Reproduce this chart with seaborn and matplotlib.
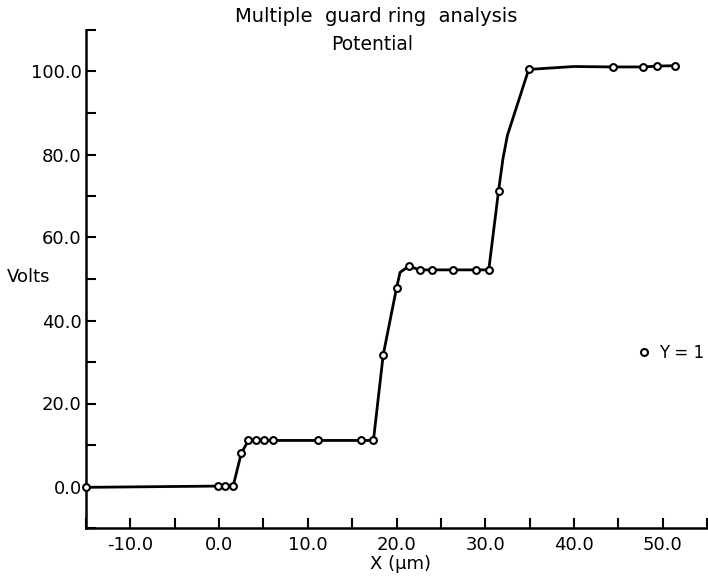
import numpy as np
import pandas as pd
import matplotlib
matplotlib.use("Agg")
import matplotlib.pyplot as plt
from matplotlib.ticker import MultipleLocator
from matplotlib.lines import Line2D
import seaborn as sns

# computed nodes along Y = 1
x_nodes = [-15.0, -0.1, 0.7, 1.6, 2.5, 3.3, 4.2, 5.1, 6.1, 11.1, 16.0, 17.4,
           18.5, 20.0, 21.4, 22.6, 24.0, 26.4, 29.0, 30.4,
           31.5, 34.9, 44.4, 47.8, 49.4, 51.4]
v_nodes = [-0.2, 0.1, 0.1, 0.2, 8.0, 11.1, 11.1, 11.1, 11.1, 11.1, 11.1, 11.1,
           31.7, 47.8, 53.1, 52.2, 52.2, 52.2, 52.2, 52.2,
           71.2, 100.5, 101.1, 101.1, 101.3, 101.4]

# extra bends of the drawn curve (no marker there)
x_bend = [20.4, 32.0, 32.5, 40.0]
v_bend = [51.6, 79.0, 84.6, 101.2]

title_1 = "Multiple  guard ring  analysis"
title_2 = "Potential"
x_label = "X (\u03bcm)"
y_label = "Volts"
legend_label = "Y = 1"


def build_frames():
    nodes = pd.DataFrame({"x": x_nodes, "v": v_nodes})
    curve = pd.concat([nodes, pd.DataFrame({"x": x_bend, "v": v_bend})])
    curve = curve.sort_values("x").reset_index(drop=True)
    return nodes, curve


def main():
    sns.set_style("ticks")
    plt.rcParams["font.family"] = ["DejaVu Sans"]
    plt.rcParams["font.size"] = 13
    plt.rcParams["text.color"] = "black"

    nodes, curve = build_frames()

    fig = plt.figure(figsize=(7.08, 5.76), dpi=100)
    ax = fig.add_axes([86 / 708, 48 / 576, 621 / 708, 498 / 576])

    sns.lineplot(data=curve, x="x", y="v", ax=ax, color="black", lw=2.0,
                 sort=False, estimator=None)
    sns.scatterplot(data=nodes, x="x", y="v", ax=ax, marker="o", s=24,
                    facecolor="white", edgecolor="black", linewidth=1.5,
                    zorder=3, clip_on=False)

    ax.set_xlim(-15, 55)
    ax.set_ylim(-10, 110)
    ax.xaxis.set_major_locator(MultipleLocator(10))
    ax.xaxis.set_minor_locator(MultipleLocator(5))
    ax.yaxis.set_major_locator(MultipleLocator(20))
    ax.yaxis.set_minor_locator(MultipleLocator(10))
    ax.xaxis.set_major_formatter(lambda v, p: f"{v:.1f}")
    ax.yaxis.set_major_formatter(lambda v, p: f"{v:.1f}" if v >= 0 else "")

    ax.tick_params(which="both", direction="in", length=7, width=1.5,
                   color="black", labelsize=13, labelcolor="black")
    ax.tick_params(axis="x", pad=6)
    ax.tick_params(axis="y", pad=3)

    sns.despine(ax=ax)
    for side in ["left", "bottom"]:
        ax.spines[side].set_linewidth(1.8)
        ax.spines[side].set_color("black")

    ax.set_xlabel("")
    ax.set_ylabel("")

    fig.text(376 / 708, 1 - 22 / 576, title_1, ha="center", va="baseline", fontsize=14)
    fig.text(372 / 708, 1 - 50 / 576, title_2, ha="center", va="baseline", fontsize=13.5)
    fig.text(400 / 708, 1 - 569 / 576, x_label, ha="center", va="baseline", fontsize=13)
    fig.text(7 / 708, 1 - 282 / 576, y_label, ha="left", va="baseline", fontsize=13)

    handle = Line2D([], [], ls="none", marker="o", markersize=5,
                    markerfacecolor="white", markeredgecolor="black",
                    markeredgewidth=1.5)
    ax.legend([handle], [legend_label], loc="center left", frameon=False,
              bbox_to_anchor=((637 - 86) / 621, (576 - 353 - 48) / 498),
              bbox_transform=ax.transAxes, borderpad=0, borderaxespad=0,
              handlelength=0.8, handletextpad=0.5, fontsize=12)

    fig.savefig("out.png", dpi=100)


if __name__ == "__main__":
    main()
